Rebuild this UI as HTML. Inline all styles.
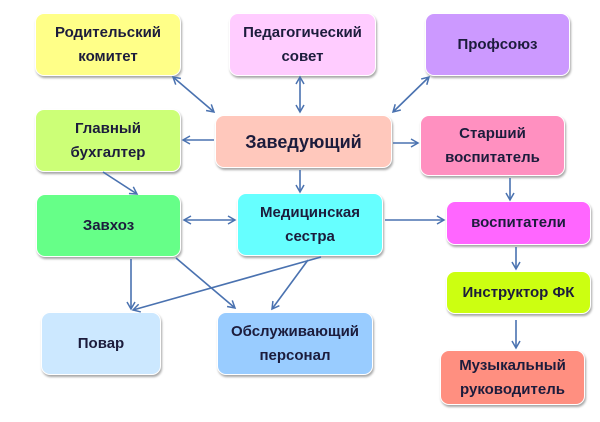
<!DOCTYPE html>
<html><head><meta charset="utf-8"><style>
body{margin:0;width:600px;height:422px;background:#fff;position:relative;overflow:hidden;font-family:"Liberation Sans","DejaVu Sans",sans-serif}
.b{position:absolute;border-radius:9px;display:flex;align-items:center;justify-content:center;text-align:center;font-weight:bold;font-size:15px;line-height:24px;color:#1c1c3c;box-shadow:1px 2px 2px rgba(0,0,0,.35);border:1px solid #fff;box-sizing:border-box}
svg{position:absolute;left:0;top:0}
</style></head><body>
<div class="b" style="left:35px;top:13px;width:146px;height:63px;background:#ffff88">Родительский<br>комитет</div>
<div class="b" style="left:229px;top:13px;width:147px;height:63px;background:#ffccff">Педагогический<br>совет</div>
<div class="b" style="left:425px;top:13px;width:145px;height:63px;background:#cc99ff">Профсоюз</div>
<div class="b" style="left:35px;top:109px;width:146px;height:63px;background:#ccff77">Главный<br>бухгалтер</div>
<div class="b" style="left:215px;top:115px;width:177px;height:53px;background:#ffc8bc;font-size:18px">Заведующий</div>
<div class="b" style="left:420px;top:115px;width:145px;height:61px;background:#ff90c0">Старший<br>воспитатель</div>
<div class="b" style="left:36px;top:194px;width:145px;height:63px;background:#66ff88">Завхоз</div>
<div class="b" style="left:237px;top:193px;width:146px;height:63px;background:#66ffff">Медицинская<br>сестра</div>
<div class="b" style="left:446px;top:201px;width:145px;height:44px;background:#ff66ff">воспитатели</div>
<div class="b" style="left:446px;top:271px;width:145px;height:43px;background:#ccff11">Инструктор ФК</div>
<div class="b" style="left:440px;top:350px;width:145px;height:55px;background:#ff8f80">Музыкальный<br>руководитель</div>
<div class="b" style="left:41px;top:312px;width:120px;height:63px;background:#cce8ff">Повар</div>
<div class="b" style="left:217px;top:312px;width:156px;height:63px;background:#99ccff">Обслуживающий<br>персонал</div>
<svg width="600" height="422"><defs><marker id="a" markerWidth="10" markerHeight="10" refX="8" refY="5" orient="auto-start-reverse" markerUnits="userSpaceOnUse"><path d="M1,1 L8,5 L1,9" fill="none" stroke="#4a72b0" stroke-width="1.5"/></marker></defs>
<g stroke="#4a72b0" stroke-width="1.6" fill="none" marker-end="url(#a)">
<line x1="173" y1="77" x2="214" y2="112" marker-start="url(#a)"/>
<line x1="300" y1="77" x2="300" y2="112" marker-start="url(#a)"/>
<line x1="429" y1="77" x2="393" y2="112" marker-start="url(#a)"/>
<line x1="214" y1="140" x2="183" y2="140"/>
<line x1="393" y1="143" x2="418" y2="143"/>
<line x1="103" y1="172" x2="137" y2="194"/>
<line x1="300" y1="170" x2="300" y2="192"/>
<line x1="184" y1="220" x2="235" y2="220" marker-start="url(#a)"/>
<line x1="385" y1="220" x2="444" y2="220"/>
<line x1="510" y1="178" x2="510" y2="200"/>
<line x1="516" y1="247" x2="516" y2="269"/>
<line x1="516" y1="320" x2="516" y2="348"/>
<line x1="131" y1="259" x2="131" y2="309"/>
<line x1="176" y1="258" x2="235" y2="308"/>
<line x1="321" y1="257" x2="133" y2="310"/>
<line x1="308" y1="260" x2="272" y2="309"/>
</g></svg>
</body></html>
